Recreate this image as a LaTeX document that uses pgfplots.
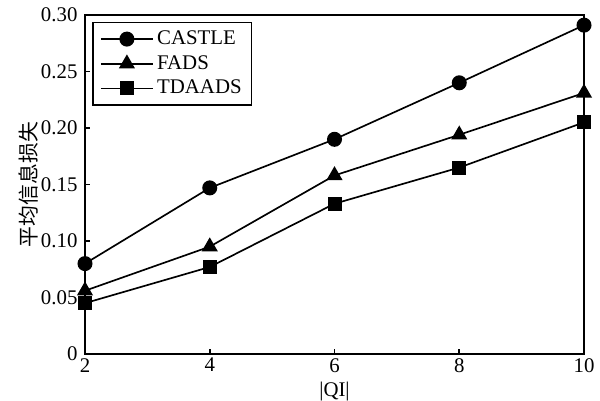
\documentclass[border=0pt]{standalone}
\usepackage{fontspec}
\setmainfont{Liberation Serif}
\newfontfamily\cjk{Noto Sans CJK SC}
\usepackage{pgfplots}
\pgfplotsset{compat=1.18}
\begin{document}
\begin{tikzpicture}
\begin{axis}[
  scale only axis,
  width=299.4pt, height=203.4pt,
  xmin=2, xmax=10, ymin=0, ymax=0.30,
  xtick={2,4,6,8,10},
  ytick={0,0.05,0.10,0.15,0.20,0.25,0.30},
  yticklabels={0,0.05,0.10,0.15,0.20,0.25,0.30},
  tick align=inside,
  xtick pos=bottom, ytick pos=left,
  major tick length=3pt,
  tick style={black, line width=1pt},
  axis line style={line width=1pt},
  /pgf/number format/assume math mode=true,
  ticklabel style={font=\fontsize{12.5}{14}\selectfont},
  xticklabel style={yshift=1pt},
  yticklabel style={xshift=-1pt},
  xlabel={|QI|},
  ylabel={\cjk 平均信息损失},
  label style={font=\fontsize{12.5}{14}\selectfont},
  xlabel style={yshift=1pt},
  ylabel style={yshift=-5pt},
  legend style={at={(0.015,0.98)}, anchor=north west, draw=black, line width=1pt,
    font=\fontsize{12.5}{14}\selectfont, row sep=1pt, inner xsep=4pt, inner ysep=3pt},
  legend cell align=left,
  legend image code/.code={
    \draw[line width=1pt] (0cm,0cm) -- (1.1cm,0cm);
    \draw[#1, line width=1pt] plot coordinates {(0.55cm,0cm)};
  },
  clip=false,
]
\addplot[black, line width=1pt, mark=*, mark size=4pt, mark options={solid, fill=black}] coordinates {(2,0.080) (4,0.147) (6,0.190) (8,0.240) (10,0.291)};
\addlegendentry{CASTLE}
\addplot[black, line width=1pt, mark=triangle*, mark size=4.6pt, mark options={solid, fill=black}] coordinates {(2,0.056) (4,0.095) (6,0.158) (8,0.194) (10,0.231)};
\addlegendentry{FADS}
\addplot[black, line width=1pt, mark=square*, mark size=3.7pt, mark options={solid, fill=black}] coordinates {(2,0.045) (4,0.077) (6,0.133) (8,0.165) (10,0.205)};
\addlegendentry{TDAADS}
\end{axis}
\pgfresetboundingbox
\path ([shift={(-51pt,-27.6pt)}]current axis.south west) rectangle ([shift={(9.6pt,9pt)}]current axis.north east);
\end{tikzpicture}
\end{document}
